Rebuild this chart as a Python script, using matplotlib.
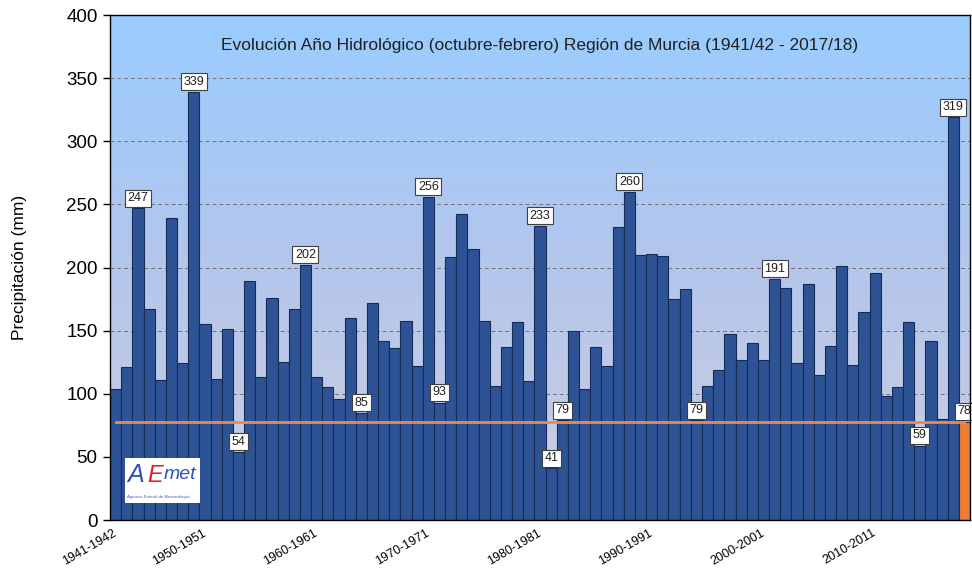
import matplotlib
matplotlib.use('Agg')
from matplotlib import pyplot as plt
from matplotlib.colors import LinearSegmentedColormap
from matplotlib.patches import Rectangle
import matplotlib.transforms as mtransforms
import numpy as np

plt.rcParams['font.family'] = ['Liberation Sans', 'DejaVu Sans']

# hydrological years 1941/42 .. 2017/18, precipitation Oct-Feb (mm)
years = [f'{y}-{y+1}' for y in range(1941, 2018)]
precip = [104, 121, 247, 167, 111, 239, 124, 339, 155, 112,
          151, 54, 189, 113, 176, 125, 167, 202, 113, 105,
          96, 160, 85, 172, 142, 136, 158, 122, 256, 93,
          208, 242, 215, 158, 106, 137, 157, 110, 233, 41,
          79, 150, 104, 137, 122, 232, 260, 210, 211, 209,
          175, 183, 79, 106, 119, 147, 127, 140, 127, 191,
          184, 124, 187, 115, 138, 201, 123, 165, 196, 98,
          105, 157, 59, 142, 80, 319, 78]
labeled = [2, 7, 11, 17, 22, 28, 29, 38, 39, 40, 46, 52, 59, 72, 75, 76]
tick_idx = [0, 8, 18, 28, 38, 48, 58, 68]
tick_text = ['1941-1942', '1950-1951', '1960-1961', '1970-1971',
             '1980-1981', '1990-1991', '2000-2001', '2010-2011']

ref = precip[-1]
x = np.arange(len(precip))
colors = ['#2E5395'] * (len(precip) - 1) + ['#ED7D31']

fig = plt.figure(figsize=(9.72, 5.69), dpi=100)
ax = fig.add_axes([0.1132, 0.0861, 0.8848, 0.8875])

# gradient background
cmap = LinearSegmentedColormap.from_list('bg', ['#CCCEE0', '#B4C6EC', '#99CCFF'])
grad = np.linspace(0, 1, 256).reshape(-1, 1)
ax.imshow(grad, extent=[-0.5, 76.5, 0, 400], origin='lower', aspect='auto',
          cmap=cmap, zorder=0)

for v in range(50, 400, 50):
    ax.axhline(v, color='#707070', lw=0.7, ls=(0, (4, 3)), zorder=1)

ax.bar(x, precip, width=1.0, color=colors, edgecolor='#152a57', linewidth=0.8, zorder=2)
ax.plot(x, [ref] * len(x), color='#E58B5A', lw=2, zorder=3)

for i in labeled:
    ax.annotate(str(precip[i]), (x[i], precip[i]), xytext=(0, 3),
                textcoords='offset points', ha='center', va='bottom',
                fontsize=9, color='#202020', zorder=5, annotation_clip=False,
                bbox=dict(boxstyle='square,pad=0.2', fc='white', ec='#404040', lw=0.8))

ax.set_xlim(-0.5, 76.5)
ax.set_ylim(0, 400)
ax.set_yticks(range(0, 401, 50))
ax.tick_params(axis='y', labelsize=13.5, length=5, width=1, pad=4)
ax.set_xticks(tick_idx)
ax.set_xticklabels(tick_text, rotation=30, ha='right', rotation_mode='anchor', fontsize=9)
ax.tick_params(axis='x', length=0, pad=5)
offset = mtransforms.ScaledTranslation(-2 / 72, 0, fig.dpi_scale_trans)
for lab in ax.get_xticklabels():
    lab.set_transform(lab.get_transform() + offset)
for s in ax.spines.values():
    s.set_color('black')
    s.set_linewidth(1)
    s.set_zorder(6)

ax.set_ylabel('Precipitación (mm)', fontsize=12.5, labelpad=28)
ax.text(0.5, 0.94, 'Evolución Año Hidrológico (octubre-febrero) Región de Murcia (1941/42 - 2017/18)',
        transform=ax.transAxes, ha='center', va='center', fontsize=12.5, color='#202020', zorder=6)

# logo
ax.add_patch(Rectangle((0.0174, 0.034), 0.087, 0.089, transform=ax.transAxes,
                       fc='white', ec='none', zorder=7))
ax.text(0.020, 0.09, 'A', transform=ax.transAxes, fontsize=18, color='#3050C0',
        style='italic', ha='left', va='center', zorder=8)
ax.text(0.043, 0.088, 'E', transform=ax.transAxes, fontsize=17, color='#E02020',
        style='italic', ha='left', va='center', zorder=8)
ax.text(0.062, 0.09, 'met', transform=ax.transAxes, fontsize=14, color='#3050C0',
        style='italic', ha='left', va='center', zorder=8)
ax.text(0.0195, 0.045, 'Agencia Estatal de Meteorología', transform=ax.transAxes,
        fontsize=3.2, color='#5060B0', ha='left', va='center', zorder=8)

fig.savefig('out.png', dpi=100)
